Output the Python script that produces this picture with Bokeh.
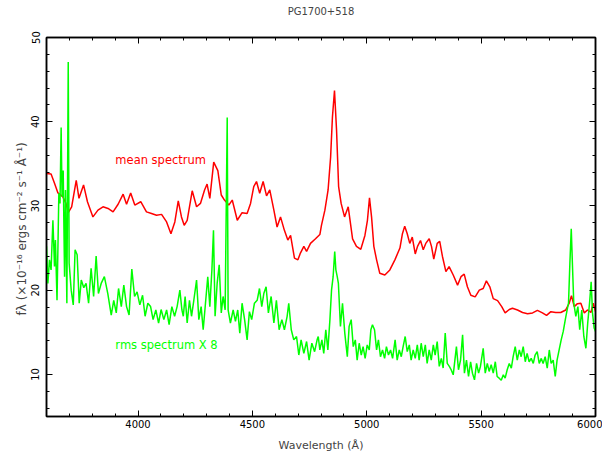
from bokeh.plotting import figure
from bokeh.models import Range1d, LinearAxis, SingleIntervalTicker, Label, CustomJSTickFormatter
from bokeh.embed import file_html
from bokeh.resources import INLINE

title_text = "PG1700+518"
x_label = "Wavelength (Å)"
y_label = "fλ  (×10⁻¹⁶ ergs cm⁻² s⁻¹ Å⁻¹)"
mean_label = "mean spectrum"
rms_label = "rms spectrum X 8"

mean_wave = [3600, 3620, 3635, 3650, 3671, 3685, 3695, 3710, 3730, 3742, 3762, 3779, 3803, 3825, 3847,
             3869, 3891, 3913, 3935, 3950, 3968, 3986, 4012, 4037, 4059, 4081, 4103, 4125, 4144, 4161,
             4176, 4190, 4202, 4215, 4237, 4256, 4273, 4291, 4302, 4314, 4331, 4349, 4364, 4378, 4397,
             4412, 4434, 4455, 4477, 4492, 4506, 4518, 4532, 4547, 4562, 4576, 4594, 4608, 4623, 4640,
             4655, 4667, 4684, 4699, 4710, 4725, 4737, 4754, 4776, 4795, 4802, 4817, 4831, 4842, 4850,
             4859, 4868, 4877, 4888, 4903, 4919, 4938, 4955, 4974, 4992, 5003, 5012, 5021, 5031, 5043,
             5057, 5079, 5101, 5123, 5145, 5156, 5166, 5177, 5188, 5199, 5212, 5222, 5235, 5247, 5258,
             5273, 5283, 5293, 5308, 5319, 5331, 5346, 5360, 5378, 5397, 5412, 5426, 5440, 5455, 5474,
             5492, 5509, 5523, 5538, 5553, 5572, 5590, 5605, 5623, 5637, 5659, 5681, 5703, 5725, 5746,
             5768, 5786, 5805, 5826, 5848, 5870, 5885, 5895, 5907, 5921, 5936, 5951, 5965, 5980, 5990,
             6000]
mean_flux = [33.85, 33.8, 32.7, 31.55, 31.1, 30.3, 29.2, 29.9, 33.05, 30.9, 32.5, 30.5, 28.7, 29.5, 29.9,
             29.7, 29.3, 30.2, 31.4, 30.2, 31.55, 30.1, 30.5, 29.3, 29.1, 28.9, 29.0, 28.1, 26.7, 28.1,
             30.6, 28.7, 27.7, 28.3, 31.8, 29.9, 30.3, 31.9, 32.6, 30.9, 35.2, 34.2, 31.3, 30.7, 30.1,
             30.7, 28.3, 29.2, 29.1, 30.3, 32.3, 32.9, 31.5, 32.9, 31.2, 31.9, 29.5, 27.5, 28.7, 27.1,
             25.95, 26.5, 23.8, 23.6, 24.4, 25.2, 24.6, 25.55, 26.1, 26.6, 27.7, 29.5, 31.9, 35.8, 40.55,
             43.7, 39.0, 32.3, 30.3, 28.7, 29.9, 26.1, 25.2, 24.85, 26.5, 28.3, 30.95, 28.7, 25.2, 23.6,
             22.0, 21.8, 22.4, 23.6, 25.0, 26.7, 27.6, 26.7, 25.55, 26.3, 24.3, 25.2, 25.9, 24.8, 25.55,
             26.1, 25.2, 23.7, 25.55, 25.8, 24.0, 22.2, 22.8, 21.8, 20.6, 21.6, 21.9, 20.4, 19.4, 19.2,
             20.0, 20.2, 21.1, 20.4, 19.0, 18.75, 18.05, 17.3, 17.7, 17.85, 17.65, 17.35, 17.2, 17.3, 17.6,
             17.3, 17.0, 17.45, 17.35, 17.35, 17.65, 18.45, 19.35, 18.05, 18.4, 18.45, 17.3, 17.65, 17.35, 18.45,
             17.45]

rms_wave = [3600, 3606, 3613, 3620, 3628, 3635, 3639, 3646, 3654, 3659, 3664, 3668, 3673, 3679, 3683,
            3689, 3695, 3699, 3708, 3717, 3725, 3734, 3743, 3752, 3763, 3773, 3784, 3795, 3806, 3817,
            3827, 3839, 3853, 3868, 3883, 3894, 3905, 3915, 3927, 3938, 3950, 3961, 3973, 3985, 3996,
            4008, 4020, 4031, 4043, 4055, 4066, 4078, 4090, 4101, 4113, 4125, 4136, 4148, 4160, 4171,
            4183, 4192, 4198, 4206, 4215, 4225, 4234, 4244, 4256, 4266, 4276, 4285, 4295, 4305, 4314,
            4323, 4330, 4337, 4346, 4355, 4364, 4372, 4381, 4390, 4394, 4404, 4416, 4426, 4436, 4445,
            4455, 4466, 4477, 4487, 4497, 4509, 4521, 4531, 4541, 4550, 4560, 4570, 4582, 4594, 4605,
            4617, 4629, 4640, 4652, 4659, 4670, 4681, 4693, 4703, 4713, 4725, 4737, 4748, 4760, 4772,
            4783, 4788, 4795, 4804, 4812, 4821, 4830, 4839, 4846, 4853, 4860, 4865, 4871, 4876, 4885,
            4894, 4904, 4915, 4923, 4932, 4941, 4950, 4958, 4967, 4976, 4984, 4993, 5002, 5011, 5018,
            5025, 5034, 5043, 5051, 5060, 5069, 5078, 5086, 5095, 5104, 5113, 5124, 5133, 5142, 5151,
            5159, 5168, 5177, 5186, 5194, 5203, 5212, 5221, 5229, 5238, 5247, 5256, 5264, 5273, 5282,
            5291, 5299, 5308, 5317, 5326, 5334, 5343, 5352, 5361, 5369, 5378, 5392, 5401, 5410, 5419,
            5427, 5436, 5445, 5454, 5462, 5471, 5480, 5489, 5497, 5509, 5518, 5527, 5535, 5544, 5553,
            5562, 5570, 5579, 5588, 5597, 5605, 5614, 5623, 5632, 5640, 5649, 5658, 5667, 5675, 5684,
            5693, 5701, 5710, 5719, 5728, 5736, 5745, 5754, 5763, 5771, 5780, 5789, 5798, 5806, 5815,
            5824, 5832, 5841, 5850, 5859, 5868, 5876, 5882, 5888, 5894, 5899, 5905, 5914, 5923, 5931,
            5940, 5949, 5958, 5966, 5975, 5981, 5987, 5994, 6000]
rms_flux = [25.2, 20.8, 23.6, 22.4, 28.3, 22.8, 25.95, 18.8, 31.5, 30.3, 39.3, 31.1, 34.2, 21.6, 31.9,
            18.45, 47.1, 23.2, 20.0, 18.25, 24.8, 24.2, 18.45, 21.2, 20.3, 20.8, 18.45, 22.6, 19.25, 24.05,
            19.6, 20.8, 21.6, 19.6, 17.05, 18.8, 17.3, 20.2, 18.05, 20.6, 18.05, 17.05, 22.5, 19.25, 19.8,
            18.25, 19.4, 16.9, 18.45, 18.05, 16.5, 17.65, 16.1, 17.7, 16.5, 17.65, 15.9, 18.05, 16.9, 18.05,
            20.0, 17.65, 16.9, 19.25, 16.1, 18.8, 16.9, 18.8, 21.2, 16.5, 18.05, 15.3, 18.45, 21.6, 18.05,
            22.4, 27.1, 16.9, 20.8, 23.0, 17.3, 19.25, 17.65, 40.5, 17.65, 16.1, 17.65, 16.3, 17.65, 14.9,
            18.45, 16.5, 14.1, 17.45, 16.5, 18.45, 18.8, 20.2, 18.05, 19.6, 20.4, 17.3, 19.25, 16.1, 18.8,
            15.3, 16.5, 15.3, 16.9, 18.45, 15.3, 14.1, 14.5, 12.3, 14.1, 12.5, 13.9, 11.7, 13.7, 12.7,
            14.1, 14.5, 12.9, 14.1, 12.5, 15.3, 12.9, 16.5, 20.0, 21.6, 24.6, 22.4, 21.6, 20.8, 15.7,
            18.45, 14.9, 12.1, 15.7, 16.5, 13.3, 14.1, 11.7, 13.7, 12.3, 13.3, 11.9, 13.5, 12.9, 15.3,
            15.9, 15.3, 12.9, 14.1, 12.1, 12.9, 11.9, 13.3, 12.3, 12.9, 11.9, 14.1, 11.7, 12.9, 12.1,
            13.3, 14.5, 12.7, 13.5, 11.7, 12.9, 11.9, 13.5, 11.7, 13.7, 12.1, 13.5, 11.3, 12.9, 11.7,
            13.5, 12.3, 13.9, 10.95, 11.9, 10.75, 14.9, 11.3, 10.95, 10.55, 9.95, 13.3, 10.55, 11.7, 14.7,
            10.15, 11.7, 9.75, 11.5, 10.15, 9.35, 11.3, 10.15, 10.95, 13.1, 10.15, 11.3, 10.35, 11.15, 10.15,
            11.5, 9.75, 9.55, 9.3, 9.95, 9.55, 10.55, 11.3, 10.75, 12.1, 13.3, 11.7, 12.9, 12.1, 13.3,
            11.5, 12.5, 11.5, 11.9, 11.3, 12.3, 12.7, 11.3, 11.9, 11.3, 12.1, 10.75, 12.9, 11.3, 11.7,
            9.75, 11.7, 12.9, 14.1, 15.1, 16.5, 17.65, 18.45, 23.2, 27.3, 23.2, 18.45, 16.9, 18.05, 15.3,
            17.65, 14.5, 13.1, 16.1, 18.8, 21.0, 17.3, 15.5, 15.1]

x_start, x_end = 3600, 6000
y_start, y_end = 5, 50

FONT = "DejaVu Sans"

p = figure(width=602, height=454, x_range=Range1d(x_start, x_end), y_range=Range1d(y_start, y_end),
           output_backend="svg", toolbar_location=None,
           min_border_left=46, min_border_right=7, min_border_top=37, min_border_bottom=37)
p.background_fill_color = "white"
p.border_fill_color = "white"
p.xgrid.visible = False
p.ygrid.visible = False
p.outline_line_color = "black"
p.outline_line_width = 1.5

blank = CustomJSTickFormatter(code="return ''")


def style_axis(ax, show_labels):
    ax.major_tick_in = 6
    ax.major_tick_out = 0
    ax.minor_tick_in = 3
    ax.minor_tick_out = 0
    ax.axis_line_color = "black"
    ax.axis_line_width = 1.5
    ax.major_tick_line_color = "black"
    ax.minor_tick_line_color = "black"
    ax.major_label_text_font = FONT
    ax.major_label_text_color = "black"
    ax.major_label_text_font_size = "10px"
    if not show_labels:
        ax.formatter = blank
        ax.major_label_standoff = 0


xa = p.xaxis[0]
xa.ticker = SingleIntervalTicker(interval=500, num_minor_ticks=5)
style_axis(xa, True)
xa.major_label_standoff = 3
xa.axis_label = x_label
xa.axis_label_text_font = FONT
xa.axis_label_text_font_size = "11px"
xa.axis_label_text_font_style = "normal"
xa.axis_label_standoff = 8

ya = p.yaxis[0]
ya.ticker = SingleIntervalTicker(interval=10, num_minor_ticks=5)
style_axis(ya, True)
ya.major_label_orientation = "vertical"
ya.major_label_standoff = 7
ya.axis_label = y_label
ya.axis_label_text_font = FONT
ya.axis_label_text_font_size = "12px"
ya.axis_label_text_font_style = "normal"
ya.axis_label_standoff = 0

top = LinearAxis(ticker=SingleIntervalTicker(interval=500, num_minor_ticks=5))
style_axis(top, False)
top.axis_label = title_text
top.axis_label_text_font = FONT
top.axis_label_text_font_size = "10px"
top.axis_label_text_font_style = "normal"
top.axis_label_standoff = 21
p.add_layout(top, "above")

right = LinearAxis(ticker=SingleIntervalTicker(interval=10, num_minor_ticks=5))
style_axis(right, False)
p.add_layout(right, "right")

p.line(mean_wave, mean_flux, line_color="#ff0000", line_width=1.5)
p.line(rms_wave, rms_flux, line_color="#00ff00", line_width=1.5)

p.add_layout(Label(x=3901, y=35.4, text=mean_label, text_color="#ff0000", text_font=FONT,
                   text_font_size="11.5px", text_baseline="alphabetic"))
p.add_layout(Label(x=3901, y=13.5, text=rms_label, text_color="#00ff00", text_font=FONT,
                   text_font_size="11.5px", text_baseline="alphabetic"))

open("out.html", "w").write(file_html(p, INLINE))
